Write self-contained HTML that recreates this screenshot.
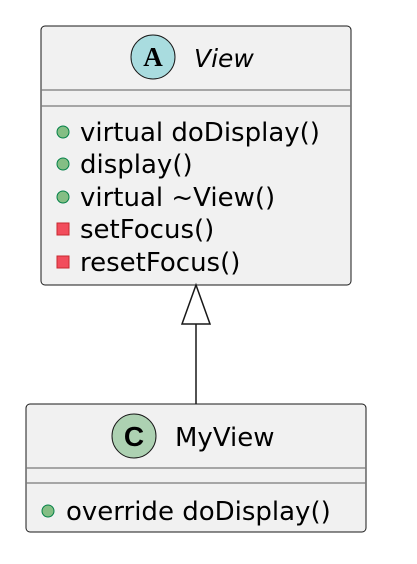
<!DOCTYPE html>
<html><head><meta charset="utf-8"><style>html,body{margin:0;padding:0;background:#fff}</style></head>
<body>
<svg width="417" height="559" viewBox="0 0 417 559" xmlns="http://www.w3.org/2000/svg" font-family="'DejaVu Sans','Liberation Sans',sans-serif">
<rect x="41" y="26" width="310" height="259" rx="4" fill="#f1f1f1" stroke="#181818" stroke-width="1"/>
<circle cx="153" cy="57" r="22" fill="#a9dcdf" stroke="#181818" stroke-width="1"/>
<text x="153" y="66" font-family="'Liberation Serif',serif" font-weight="bold" font-size="27" text-anchor="middle" fill="#000">A</text>
<text x="194" y="67" font-size="25" font-style="italic" fill="#000">View</text>
<line x1="41" y1="90" x2="351" y2="90" stroke="#7a7a7a" stroke-width="1.2"/>
<line x1="41" y1="106" x2="351" y2="106" stroke="#7a7a7a" stroke-width="1.2"/>
<g font-size="26" fill="#000">
<circle cx="63" cy="132" r="6" fill="#84be84" stroke="#038048"/>
<text x="80" y="141">virtual doDisplay()</text>
<circle cx="63" cy="164" r="6" fill="#84be84" stroke="#038048"/>
<text x="80" y="173">display()</text>
<circle cx="63" cy="197" r="6" fill="#84be84" stroke="#038048"/>
<text x="80" y="206">virtual ~View()</text>
<rect x="57" y="223" width="12" height="12" fill="#f24d5c" stroke="#c82930"/>
<text x="80" y="238">setFocus()</text>
<rect x="57" y="256" width="12" height="12" fill="#f24d5c" stroke="#c82930"/>
<text x="80" y="271">resetFocus()</text>
</g>
<line x1="196" y1="324" x2="196" y2="404" stroke="#181818" stroke-width="1.5"/>
<polygon points="196,285 182,324 210,324" fill="#fff" stroke="#181818" stroke-width="1.5"/>
<rect x="26" y="404" width="340" height="128" rx="4" fill="#f1f1f1" stroke="#181818" stroke-width="1"/>
<circle cx="134" cy="436" r="22" fill="#add1b2" stroke="#181818" stroke-width="1"/>
<text x="134" y="446" font-family="'Liberation Sans',sans-serif" font-weight="bold" font-size="28" text-anchor="middle" fill="#000">C</text>
<text x="175" y="446" font-size="26" fill="#000">MyView</text>
<line x1="26" y1="468" x2="366" y2="468" stroke="#7a7a7a" stroke-width="1.2"/>
<line x1="26" y1="483" x2="366" y2="483" stroke="#7a7a7a" stroke-width="1.2"/>
<circle cx="48" cy="511" r="6" fill="#84be84" stroke="#038048"/>
<text x="66" y="520" font-size="26" fill="#000">override doDisplay()</text>
</svg>
</body></html>
